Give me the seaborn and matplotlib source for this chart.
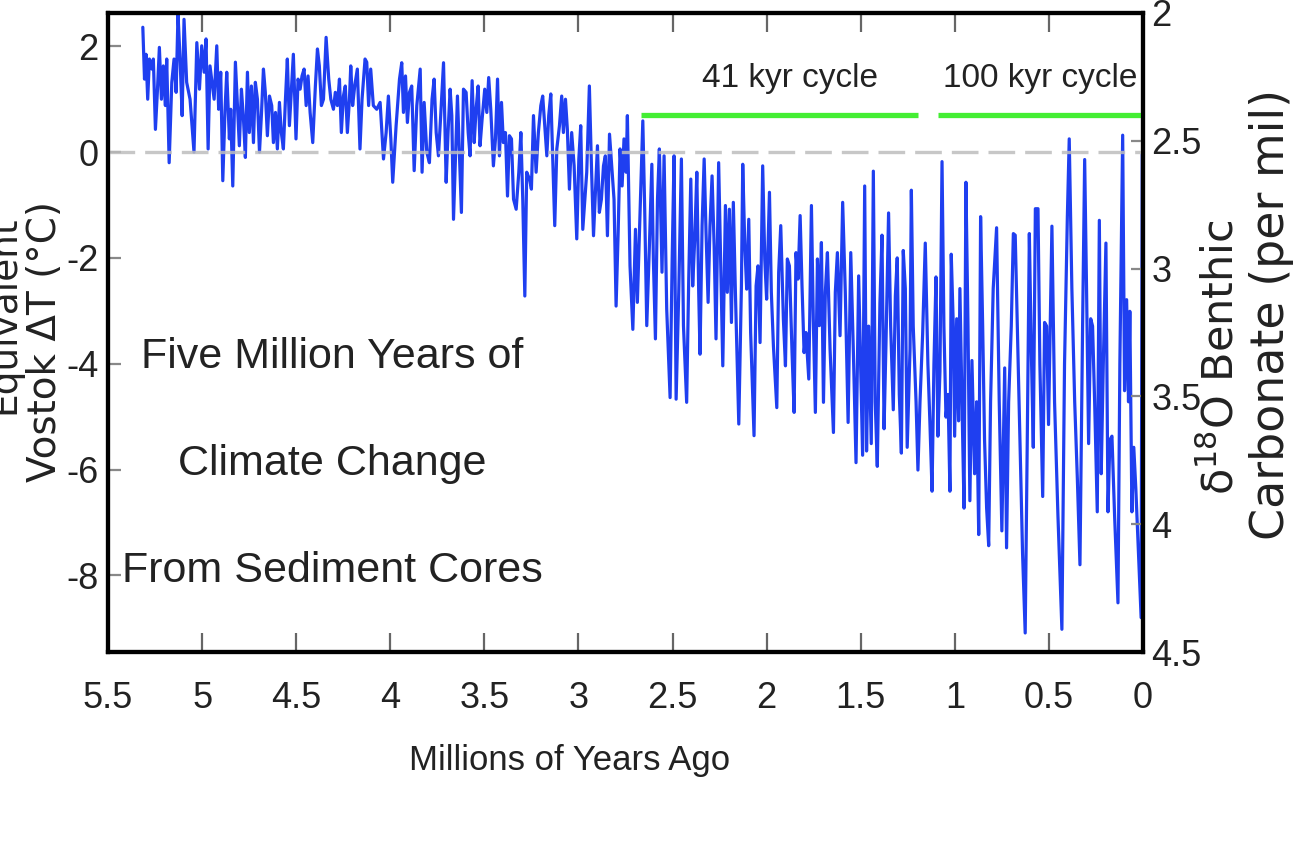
import matplotlib
matplotlib.use("Agg")
import matplotlib.pyplot as plt
import seaborn as sns
import pandas as pd

# values (age in Myr, Vostok-equivalent dT in deg C)
age_early = [
    5.315, 5.306, 5.298, 5.289, 5.280, 5.267, 5.259, 5.248, 5.237, 5.227,
    5.216, 5.206, 5.195, 5.188, 5.175, 5.161, 5.149, 5.138, 5.128, 5.117,
    5.106, 5.096, 5.082, 5.064, 5.043, 5.028, 5.014, 5.002, 4.989, 4.979,
    4.968, 4.958, 4.947, 4.936, 4.922, 4.912, 4.901, 4.890, 4.878, 4.869,
    4.855, 4.848, 4.837, 4.823, 4.812, 4.802, 4.791, 4.780, 4.770, 4.759,
    4.749, 4.738, 4.727, 4.717, 4.706, 4.695, 4.685, 4.674, 4.664, 4.653,
    4.642, 4.630, 4.621, 4.610, 4.600, 4.589, 4.579, 4.568, 4.557, 4.547,
    4.536, 4.525, 4.515, 4.501, 4.490, 4.479, 4.469, 4.458, 4.447, 4.437,
    4.426, 4.412, 4.398, 4.387, 4.377, 4.366, 4.355, 4.341, 4.327, 4.316,
    4.302, 4.292, 4.281, 4.270, 4.260, 4.249, 4.239, 4.228, 4.217, 4.210,
    4.200, 4.189, 4.175, 4.161, 4.150, 4.134, 4.125, 4.115, 4.104, 4.090,
    4.072, 4.054,
]
dt_early = [
    2.36, 1.38, 1.85, 1.00, 1.76, 1.57, 1.76, 0.43, 1.19, 1.98,
    1.00, 1.63, 0.88, 1.76, -0.20, 1.32, 1.76, 1.13, 2.61, 1.76,
    0.69, 2.51, 1.32, 1.00, 0.00, 2.07, 1.19, 2.01, 1.51, 2.14,
    0.06, 1.63, 1.32, 1.00, 2.01, 0.81, 1.51, -0.54, 0.81, 1.51,
    0.25, 0.81, -0.64, 1.70, 0.88, 0.12, 1.19, 0.62, -0.10, 1.51,
    0.37, 1.25, 0.18, 1.32, 1.00, 0.00, 0.69, 1.57, 1.13, 0.31,
    1.06, 0.88, 0.18, 0.75, 0.06, 0.94, 0.37, 0.06, 1.00, 1.76,
    0.50, 1.19, 1.85, 0.25, 1.38, 1.19, 1.44, 1.57, 0.88, 1.44,
    0.75, 0.18, 1.25, 1.95, 1.63, 0.88, 1.00, 2.17, 1.38, 1.00,
    0.81, 1.13, 0.88, 1.38, 0.37, 1.06, 1.25, 0.37, 1.00, 1.63,
    0.88, 1.25, 1.57, 0.06, 1.00, 1.76, 1.70, 0.88, 1.57, 0.88,
    0.81, 0.94,
]

age_mid = [
    4.036, 4.022, 4.010, 3.997, 3.987, 3.969, 3.951, 3.939, 3.930, 3.919,
    3.909, 3.898, 3.886, 3.873, 3.859, 3.841, 3.831, 3.820, 3.806, 3.792,
    3.778, 3.767, 3.756, 3.744, 3.732, 3.717, 3.703, 3.693, 3.682, 3.673,
    3.664, 3.650, 3.643, 3.632, 3.622, 3.611, 3.597, 3.586, 3.576, 3.565,
    3.554, 3.544, 3.533, 3.523, 3.512, 3.498, 3.487, 3.477, 3.466, 3.452,
    3.441, 3.430, 3.420, 3.409, 3.399, 3.388, 3.377, 3.367, 3.356, 3.345,
    3.331, 3.317, 3.306, 3.296, 3.285, 3.275, 3.260, 3.250, 3.239, 3.225,
    3.213, 3.200, 3.190, 3.179, 3.168, 3.158, 3.147, 3.137, 3.126, 3.115,
    3.101, 3.089, 3.080, 3.069, 3.059, 3.048, 3.036, 3.023, 3.009, 2.998,
    2.988, 2.977, 2.966, 2.956, 2.942, 2.931, 2.920, 2.910, 2.899, 2.889,
    2.878, 2.867, 2.857, 2.846, 2.835, 2.821, 2.811, 2.800, 2.789, 2.779,
    2.768, 2.758, 2.747, 2.740,
]
dt_mid = [
    -0.13, 0.37, 1.06, 0.25, -0.57, 0.50, 1.38, 1.69, 0.75, 1.44,
    0.56, 1.13, 1.25, -0.35, 0.88, 1.57, -0.38, 0.94, 0.00, -0.20,
    1.00, 1.38, 0.37, -0.07, 0.69, 1.69, -0.57, 0.37, 1.19, 0.69,
    -1.27, 0.25, 1.06, -0.07, -1.14, 1.19, 1.13, 0.37, -0.07, 1.35,
    0.18, 0.81, 1.25, 0.12, 0.62, 1.19, 0.75, 1.41, 0.81, -0.26,
    0.25, 1.38, -0.07, 0.94, 0.18, 0.37, -0.83, 0.31, 0.25, -0.89,
    -1.08, -0.38, 0.37, -0.89, -2.72, -0.38, -0.51, -0.70, 0.69, -0.38,
    0.37, 0.88, 1.06, 0.50, -0.07, 0.69, 1.10, -0.07, -1.39, 0.06,
    0.50, 1.06, 0.37, 1.00, 0.43, -0.70, 0.37, -0.26, -1.64, -0.13,
    0.50, -1.46, -0.89, -0.38, 1.25, -0.26, -1.58, -0.76, 0.12, -1.14,
    -0.89, -0.26, -0.07, -1.58, 0.34, -0.38, -0.89, -2.91, -1.52, 0.06,
    -0.64, 0.25, -0.38, 0.69,
]

age_41kyr = [
    2.726, 2.711, 2.697, 2.687, 2.676, 2.658, 2.648, 2.637, 2.623, 2.610,
    2.602, 2.591, 2.580, 2.570, 2.556, 2.545, 2.531, 2.513, 2.502, 2.492,
    2.481, 2.467, 2.453, 2.442, 2.425, 2.414, 2.403, 2.393, 2.382, 2.371,
    2.361, 2.354, 2.343, 2.332, 2.322, 2.311, 2.301, 2.290, 2.279, 2.269,
    2.255, 2.244, 2.233, 2.219, 2.209, 2.198, 2.187, 2.177, 2.166, 2.148,
    2.134, 2.127, 2.116, 2.106, 2.095, 2.085, 2.067, 2.056, 2.046, 2.035,
    2.021, 2.010, 2.000, 1.985, 1.975, 1.964, 1.946, 1.936, 1.925, 1.911,
    1.900, 1.890, 1.879, 1.865, 1.854, 1.844, 1.833, 1.822, 1.812, 1.801,
    1.791, 1.776, 1.762, 1.752, 1.741, 1.730, 1.720, 1.709, 1.698, 1.688,
    1.677, 1.663, 1.645, 1.635, 1.624, 1.610, 1.596, 1.582, 1.567, 1.553,
    1.539, 1.525, 1.511,
]
dt_41kyr = [
    -2.15, -3.35, -1.46, -2.84, -1.52, 0.59, -1.08, -3.28, -1.77, -0.23,
    -2.02, -3.53, -0.89, 0.06, -2.27, -0.07, -2.97, -4.64, -2.02, -0.07,
    -4.67, -2.65, -0.13, -3.28, -4.73, -2.40, -0.51, -2.53, -1.64, -0.38,
    -2.65, -3.82, -1.39, -0.13, -1.52, -2.84, -1.39, -0.45, -1.77, -3.53,
    -0.20, -2.15, -4.04, -1.01, -2.65, -1.08, -3.22, -0.95, -2.65, -5.14,
    -2.53, -0.23, -1.77, -2.59, -1.27, -3.41, -5.36, -2.53, -2.15, -3.60,
    -0.26, -2.02, -2.78, -0.76, -2.65, -3.66, -4.83, -2.27, -1.39, -3.16,
    -4.04, -2.02, -2.15, -3.79, -4.92, -1.90, -2.40, -1.20, -2.53, -3.79,
    -3.41, -4.29, -1.01, -3.16, -4.92, -2.02, -3.28, -1.71, -4.73, -2.65,
    -1.90, -3.72, -5.30, -2.65, -1.90, -3.47, -0.95, -2.65, -5.11, -1.90,
    -3.79, -5.87, -2.34,
]

age_100kyr = [
    1.490, 1.479, 1.469, 1.458, 1.444, 1.433, 1.423, 1.412, 1.398, 1.387,
    1.376, 1.366, 1.352, 1.341, 1.327, 1.316, 1.306, 1.295, 1.284, 1.274,
    1.263, 1.253, 1.238, 1.231, 1.221, 1.206, 1.196, 1.185, 1.171, 1.157,
    1.143, 1.132, 1.121, 1.111, 1.100, 1.090, 1.079, 1.068, 1.058, 1.047,
    1.036, 1.026, 1.019, 1.008, 1.001, 0.990, 0.980, 0.973, 0.962, 0.951,
    0.941, 0.930, 0.920, 0.909, 0.895, 0.884, 0.873, 0.863, 0.852, 0.842,
    0.831, 0.820, 0.810, 0.796, 0.778, 0.764, 0.750, 0.735, 0.725, 0.714,
    0.700, 0.689, 0.679, 0.668, 0.654, 0.640, 0.626, 0.615, 0.604, 0.594,
    0.583, 0.572, 0.558, 0.548, 0.533, 0.523, 0.512, 0.502, 0.484, 0.470,
    0.452, 0.431, 0.417, 0.402, 0.392, 0.378, 0.363, 0.349, 0.335, 0.321,
    0.310, 0.300, 0.289, 0.278, 0.268, 0.257, 0.243, 0.232, 0.222, 0.211,
    0.197, 0.186, 0.176, 0.165, 0.151, 0.133, 0.123, 0.108, 0.098, 0.087,
    0.077, 0.070, 0.059, 0.049, 0.038, 0.024, 0.010, 0.004,
]
dt_100kyr = [
    -5.73, -0.64, -5.65, -3.29, -5.51, -0.36, -4.72, -5.94, -2.86, -1.57,
    -5.23, -3.65, -1.15, -3.29, -4.87, -2.72, -2.00, -4.58, -5.69, -1.86,
    -2.58, -5.58, -3.72, -0.72, -3.29, -4.72, -6.01, -4.72, -3.44, -1.72,
    -4.01, -5.15, -6.41, -4.01, -2.36, -5.37, -4.15, -0.18, -3.29, -5.01,
    -4.58, -6.41, -1.93, -3.29, -5.37, -3.15, -5.08, -2.58, -4.72, -6.73,
    -0.57, -3.29, -6.59, -3.94, -6.08, -4.72, -7.23, -1.22, -3.29, -5.44,
    -6.73, -7.44, -4.72, -2.58, -1.43, -4.72, -7.16, -4.08, -7.48, -4.72,
    -3.29, -1.54, -1.57, -3.29, -5.44, -7.59, -9.09, -5.44, -1.54, -3.65,
    -5.58, -1.07, -1.07, -4.01, -6.51, -3.22, -3.29, -5.15, -1.40, -4.72,
    -6.87, -9.02, -4.01, -1.22, 0.25, -2.58, -4.72, -6.16, -7.80, -3.29,
    -0.14, -2.58, -5.51, -3.15, -3.29, -4.72, -6.80, -1.29, -6.08, -4.01,
    -1.72, -6.80, -5.44, -5.37, -6.87, -8.52, -4.01, 0.32, -4.51, -2.79,
    -4.72, -3.01, -6.80, -5.58, -6.37, -7.59, -8.80, -0.04,
]

cycle_labels = ["41 kyr cycle", "100 kyr cycle"]
cycle_start = [2.67, 1.09]
cycle_end = [1.195, 0.0]
cycle_level = [0.70, 0.70]
cycle_label_age = [1.876, 0.547]

title_lines = ["Five Million Years of", "Climate Change", "From Sediment Cores"]
x_ticks = [5.5, 5, 4.5, 4, 3.5, 3, 2.5, 2, 1.5, 1, 0.5, 0]
x_tick_labels = ["5.5", "5", "4.5", "4", "3.5", "3", "2.5", "2", "1.5", "1", "0.5", "0"]
left_ticks = [2, 0, -2, -4, -6, -8]
right_ticks = [2, 2.5, 3, 3.5, 4, 4.5]
right_tick_labels = ["2", "2.5", "3", "3.5", "4", "4.5"]

df = pd.DataFrame({
    "age": age_early + age_mid + age_41kyr + age_100kyr,
    "dT": dt_early + dt_mid + dt_41kyr + dt_100kyr,
})

sns.set_style("white")
plt.rcParams["font.family"] = ["Liberation Sans", "DejaVu Sans"]
plt.rcParams["axes.unicode_minus"] = False
ink = "#222222"

W, H = 1310, 842
fig = plt.figure(figsize=(W / 100, H / 100), dpi=100)
ax = fig.add_axes([108 / W, 1 - 652 / H, (1143 - 108) / W, (652 - 13) / H])

sns.lineplot(data=df, x="age", y="dT", ax=ax, sort=False, estimator=None,
             color="#1f3ff0", linewidth=2.3, zorder=2)
ax.axhline(0, color="#bdbdbd", lw=2.4, dashes=(8, 3), alpha=0.85, zorder=3)

for lab, s, e, lev, lx in zip(cycle_labels, cycle_start, cycle_end, cycle_level, cycle_label_age):
    ax.hlines(lev, s, e, color="#44ee33", lw=3.8, zorder=4)
    ax.text(lx, lev + 0.70, lab, ha="center", va="center", fontsize=24, color=ink)

ax.set_xlim(5.5, 0)
ax.set_ylim(-9.45, 2.63)
ax.set_xticks(x_ticks)
ax.set_xticklabels(x_tick_labels)
ax.set_yticks(left_ticks)
ax.set_yticklabels([str(t) for t in left_ticks])
ax.set_xlabel("Millions of Years Ago", fontsize=25, color=ink)
ax.xaxis.set_label_coords((570 - 108) / 1035, (652 - 744) / 639)
ax.set_ylabel("")
ax.tick_params(axis="x", direction="in", length=14, width=1.6, color="#666666",
               top=True, bottom=True, labelsize=26, pad=21, labelcolor=ink)
ax.tick_params(axis="y", direction="in", length=9, width=1.6, color="#888888",
               left=True, right=False, labelsize=26, pad=7, labelcolor=ink)

ax2 = ax.twinx()
ax2.set_ylim(4.5, 2.0)
ax2.set_yticks(right_ticks)
ax2.set_yticklabels(right_tick_labels)
ax2.tick_params(axis="y", direction="in", length=9, width=1.6, color="#888888",
                labelsize=26, pad=6, labelcolor=ink)

for a in (ax, ax2):
    for sp in a.spines.values():
        sp.set_linewidth(3)
        sp.set_color("black")

for i, line in enumerate(title_lines):
    ax.text(0.217, 0.462 - i * 0.168, line, transform=ax.transAxes,
            ha="center", va="center", fontsize=31, color=ink)

fig.text(45 / W, 1 - 342 / H, "Vostok \u0394T (\u00b0C)", rotation=90,
         ha="center", va="center", fontsize=28, family="DejaVu Sans", color=ink)
fig.text(4 / W, 1 - 315 / H, "Equivalent", rotation=90,
         ha="center", va="center", fontsize=27, family="DejaVu Sans", color=ink)
fig.text(1221 / W, 1 - 357 / H, "\u03b4$^{18}$O Benthic", rotation=90,
         ha="center", va="center", fontsize=31, family="DejaVu Sans", color=ink)
fig.text(1271 / W, 1 - 314 / H, "Carbonate (per mil)", rotation=90,
         ha="center", va="center", fontsize=33, family="DejaVu Sans", color=ink)

fig.savefig("out.png", dpi=100, facecolor="white")
